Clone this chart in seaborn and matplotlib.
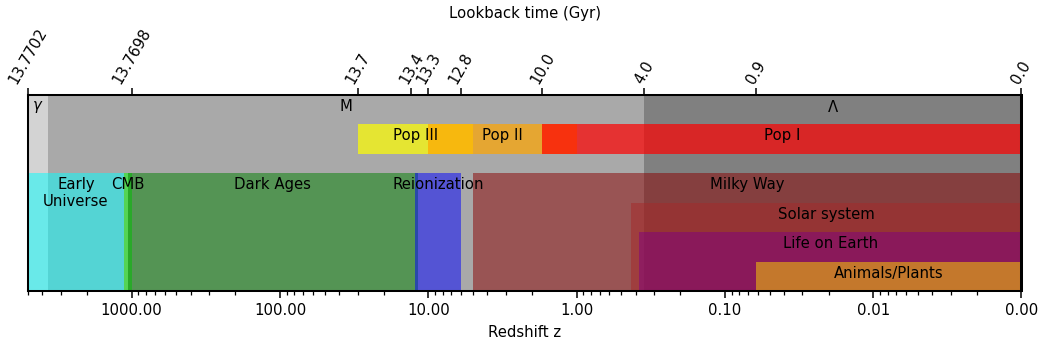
import numpy as np
import pandas as pd
import matplotlib
matplotlib.use("Agg")
import matplotlib.pyplot as plt
from matplotlib.ticker import FixedLocator, FixedFormatter, NullLocator, LogLocator, NullFormatter
import seaborn as sns

# --- cosmic composition (full-height background bands) ---
comp_names = [r"$\gamma$", "M", r"$\Lambda$"]
comp_start = [5000, 3650, 0.35]
comp_end = [3650, 0.35, 0.001]
comp_colors = ["lightgray", "darkgray", "gray"]

# --- stellar populations ---
pop_names = ["Pop III", "Pop II", "Pop I"]
pop_start = [30, 10, 1.7]
pop_end = [5, 1, 0.001]
pop_colors = ["yellow", "orange", "red"]

# --- epochs / structures ---
epoch_names = ["Early\nUniverse", "CMB", "Dark Ages", "Reionization",
               "Milky Way", "Solar system", "Life on Earth", "Animals/Plants"]
epoch_start = [5000, 1130, 1065, 12.2, 5, 0.43, 0.38, 0.062]
epoch_end = [1130, 1000, 11.8, 6, 0.001, 0.001, 0.001, 0.001]
epoch_top = [0.6, 0.6, 0.6, 0.6, 0.6, 0.45, 0.30, 0.15]
epoch_colors = ["cyan", "lime", "green", "blue", "darkred", "brown", "purple", "gold"]

# --- axes ticks ---
z_ticks = [1000, 100, 10, 1, 0.1, 0.01, 0.001]
z_limits = (5000, 0.001)
lookback_z = [5000, 1000, 30, 13, 10, 6, 1.7, 0.35, 0.062, 0.001]
lookback_labels = ["13.7702", "13.7698", "13.7", "13.4", "13.3", "12.8",
                   "10.0", "4.0", "0.9", "0.0"]

sns.set_theme(style="ticks", rc={
    "axes.edgecolor": "black", "text.color": "black",
    "axes.labelcolor": "black", "xtick.color": "black", "ytick.color": "black",
})
plt.rcParams["font.family"] = ["DejaVu Sans"]
FS = 10.7

comp = pd.DataFrame({"name": comp_names, "start": comp_start, "end": comp_end, "color": comp_colors})
pops = pd.DataFrame({"name": pop_names, "start": pop_start, "end": pop_end, "color": pop_colors})
epochs = pd.DataFrame({"name": epoch_names, "start": epoch_start, "end": epoch_end,
                       "top": epoch_top, "color": epoch_colors})

fig = plt.figure(figsize=(10.41, 3.51), dpi=100)
ax = fig.add_axes([28 / 1041, 60 / 351, 993.5 / 1041, 196 / 351])
ax.set_xscale("log")


def span(a, lo, hi, y0, y1, color, alpha):
    left, right = min(lo, hi), max(lo, hi)
    a.broken_barh([(left, right - left)], (y0, y1 - y0), facecolors=color,
                  alpha=alpha, linewidth=0)


def gmean(a, b):
    return np.sqrt(a * b)


for r in comp.itertuples():
    span(ax, r.start, r.end, 0, 1, r.color, 1.0)
    ax.text(gmean(r.start, r.end), 0.98, r.name, ha="center", va="top", fontsize=FS)

for r in pops.itertuples():
    span(ax, r.start, r.end, 0.7, 0.85, r.color, 0.7)
for r in pops.itertuples():
    ax.text(gmean(r.start, r.end), 0.83, r.name, ha="center", va="top", fontsize=FS)

for r in epochs.itertuples():
    span(ax, r.start, r.end, 0, r.top, r.color, 0.5)
for r in epochs.itertuples():
    ax.text(gmean(r.start, r.end), r.top - 0.02, r.name, ha="center", va="top",
            fontsize=FS, linespacing=1.15)

ax.set_xlim(*z_limits)
ax.set_ylim(0, 1)
ax.set_yticks([])
ax.xaxis.set_major_locator(FixedLocator(z_ticks))
ax.xaxis.set_major_formatter(FixedFormatter([f"{v:.2f}" for v in z_ticks]))
ax.xaxis.set_minor_locator(LogLocator(base=10, subs=np.arange(2, 10), numticks=20))
ax.xaxis.set_minor_formatter(NullFormatter())
ax.tick_params(axis="x", which="major", length=6.7 * 0.72, width=1.1, pad=4, labelsize=FS)
ax.tick_params(axis="x", which="minor", length=4 * 0.72, width=0.9)
ax.set_xlabel("Redshift z", fontsize=FS, labelpad=5)
for s in ax.spines.values():
    s.set_linewidth(1.45)
    s.set_zorder(5)

top = ax.twiny()
top.set_xscale("log")
top.set_xlim(*z_limits)
top.xaxis.set_major_locator(FixedLocator(lookback_z))
top.xaxis.set_major_formatter(FixedFormatter(lookback_labels))
top.xaxis.set_minor_locator(NullLocator())
top.tick_params(axis="x", which="major", length=6.7 * 0.72, width=1.1, pad=1,
                labelsize=FS, labelrotation=60)
top.set_xlabel("Lookback time (Gyr)", fontsize=FS, labelpad=6)
for s in top.spines.values():
    s.set_linewidth(1.45)

fig.savefig("out.png", dpi=100)
